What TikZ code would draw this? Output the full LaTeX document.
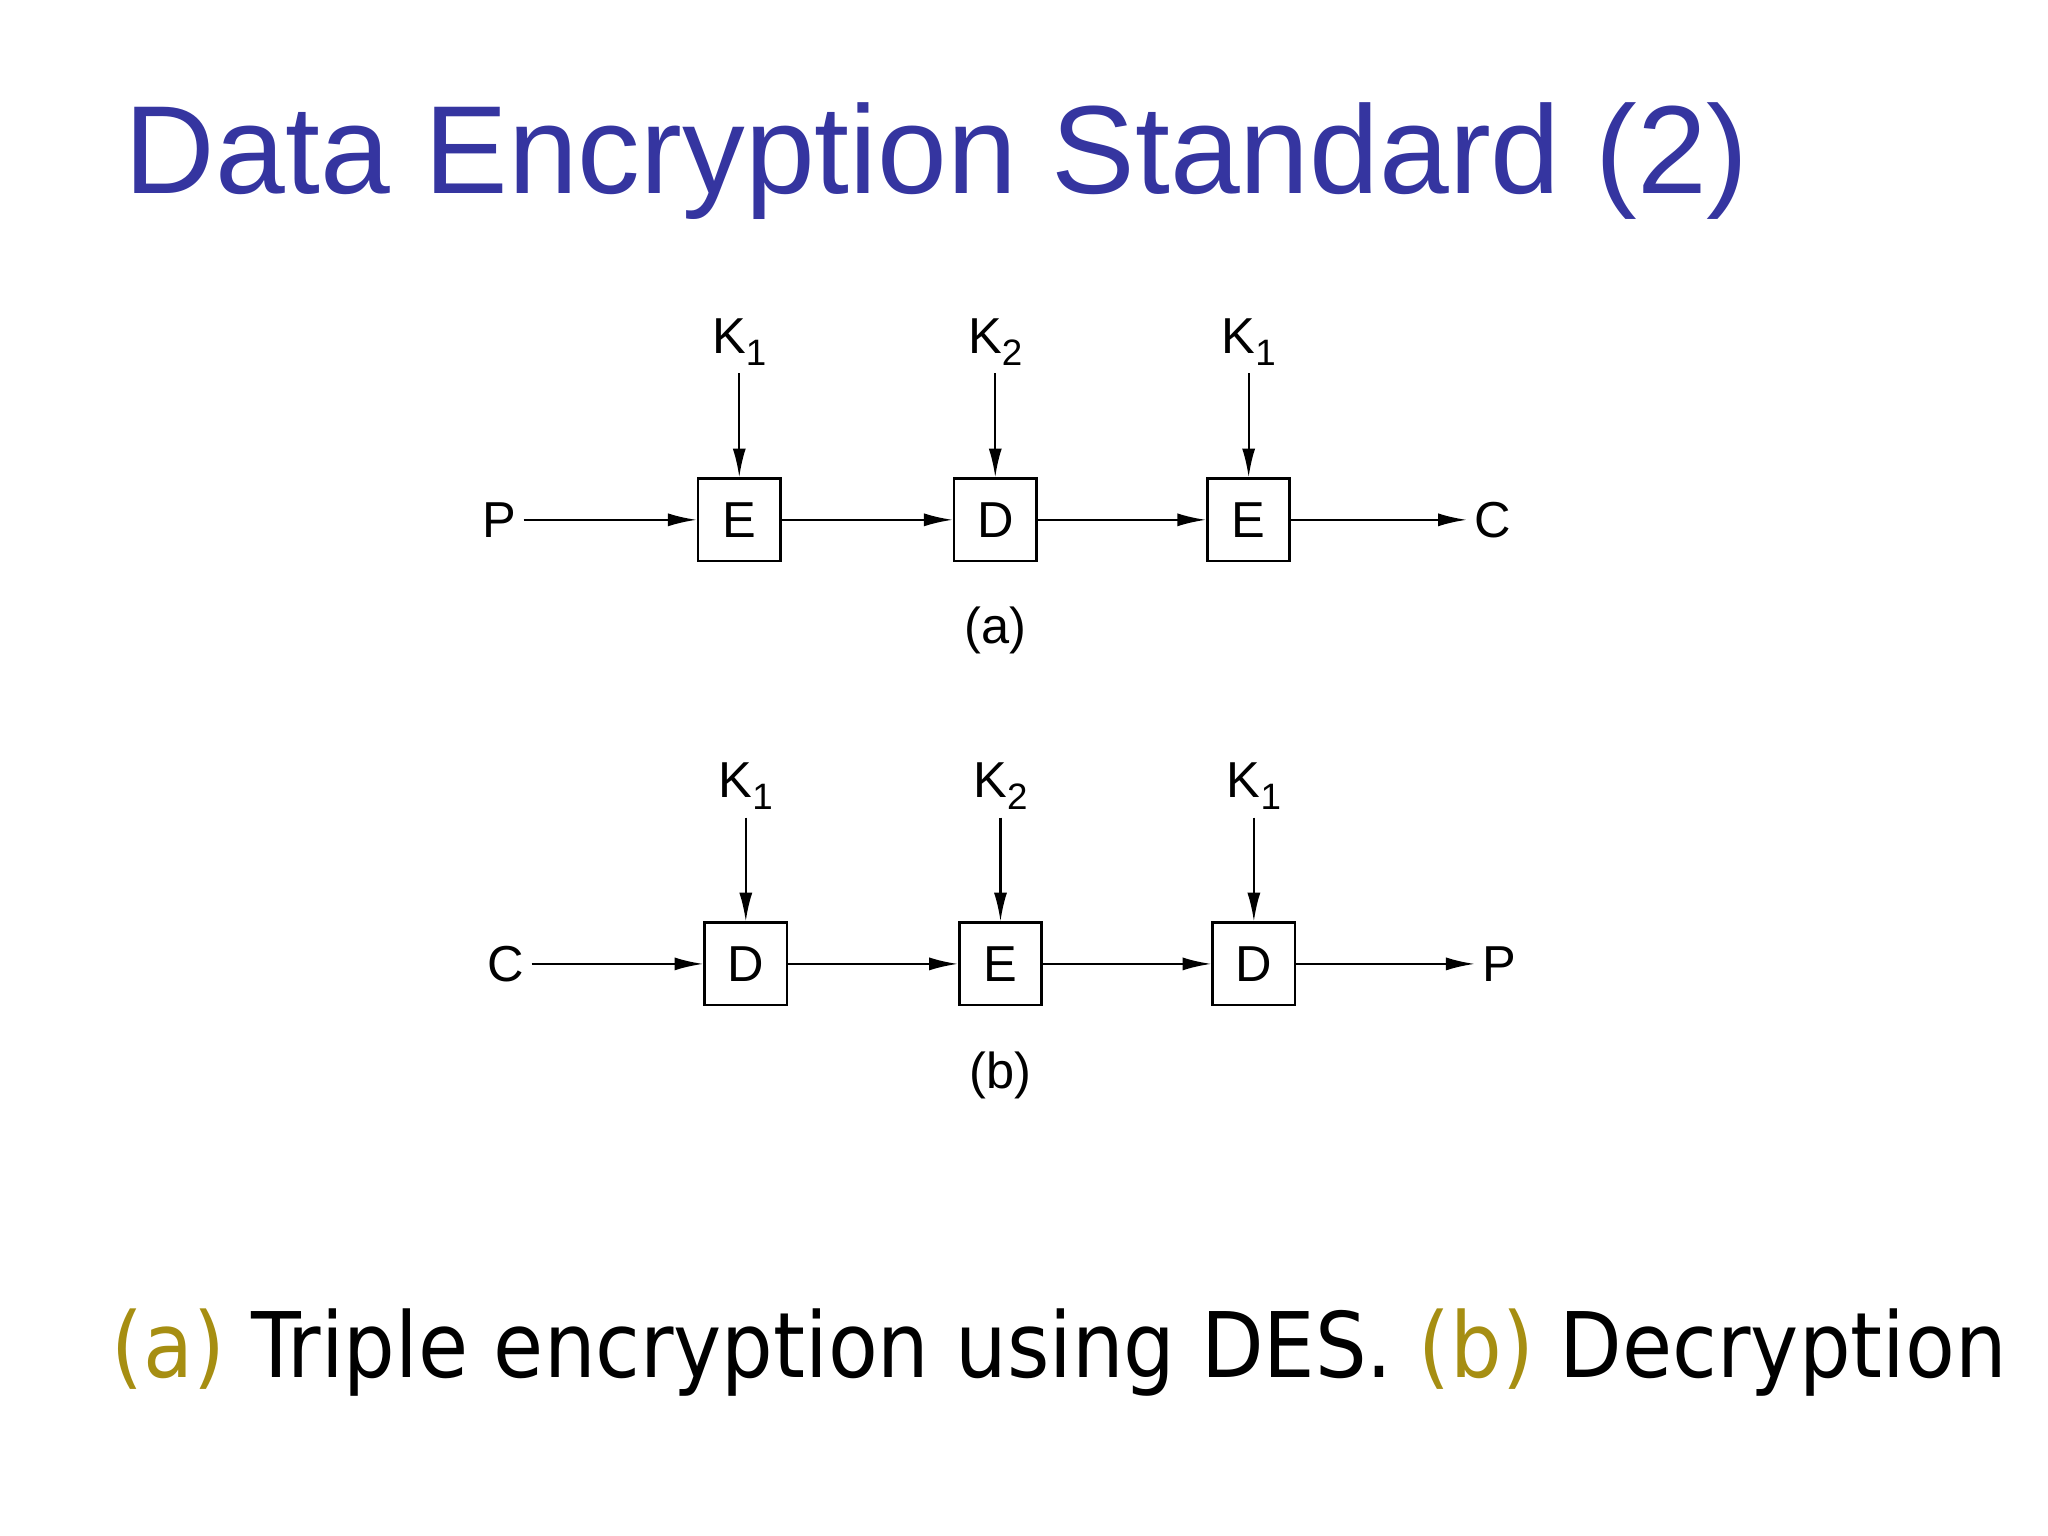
\documentclass[tikz,border=0pt]{standalone}
\usepackage{fontspec}
\setmainfont{Liberation Sans}
\newfontfamily\capfont{DejaVu Sans Condensed}
\usetikzlibrary{arrows.meta}
\definecolor{titleblue}{HTML}{3535A0}
\definecolor{olive}{HTML}{A68E12}
\newcommand{\Kx}[1]{K\raisebox{-0.45ex}{\fontsize{8}{8}\selectfont #1}}
\tikzset{
  blk/.style={draw,line width=0.6pt,minimum width=0.63cm,minimum height=0.63cm,inner sep=0pt,font=\fontsize{11}{11}\selectfont},
  lbl/.style={inner sep=0pt,outer sep=0.06cm,font=\fontsize{11}{11}\selectfont},
  arr/.style={-{Latex[length=0.22cm,width=0.1cm]},line width=0.5pt}
}
\begin{document}
\begin{tikzpicture}[x=0.01cm,y=-0.01cm]
\useasboundingbox (0,0) rectangle (1568,1176);
\node[anchor=base west,inner sep=0pt,text=titleblue,font=\fontsize{27.3}{28}\selectfont] (title) at (95,148) {Data Encryption Standard (2)};
% (a)
\foreach \n/\x/\t/\k in {a1/566/E/1,a2/762/D/2,a3/956/E/1}{
  \node[blk] (\n) at (\x,398) {\t};
  \node[lbl] (k\n) at (\x,262) {\Kx{\k}};
  \draw[arr] (k\n.south) -- (\n.north);
}
\node[lbl] (pa) at (382,398) {P};
\node[lbl] (ca) at (1143,398) {C};
\draw[arr] (pa) -- (a1);
\draw[arr] (a1) -- (a2);
\draw[arr] (a2) -- (a3);
\draw[arr] (a3) -- (ca);
\node[lbl] (la) at (762,483) {(a)};
% (b)
\foreach \n/\x/\t/\k in {b1/571/D/1,b2/766/E/2,b3/960/D/1}{
  \node[blk] (\n) at (\x,738) {\t};
  \node[lbl] (k\n) at (\x,602) {\Kx{\k}};
  \draw[arr] (k\n.south) -- (\n.north);
}
\node[lbl] (cb) at (387,738) {C};
\node[lbl] (pb) at (1148,738) {P};
\draw[arr] (cb) -- (b1);
\draw[arr] (b1) -- (b2);
\draw[arr] (b2) -- (b3);
\draw[arr] (b3) -- (pb);
\node[lbl] (lb) at (766,823) {(b)};
% caption
\node[anchor=base west,inner sep=0pt,font=\capfont\fontsize{19.7}{21}\selectfont] (cap) at (85,1055) {\textcolor{olive}{(a)} Triple encryption using DES. \textcolor{olive}{(b)} Decryption};
\end{tikzpicture}
\end{document}
